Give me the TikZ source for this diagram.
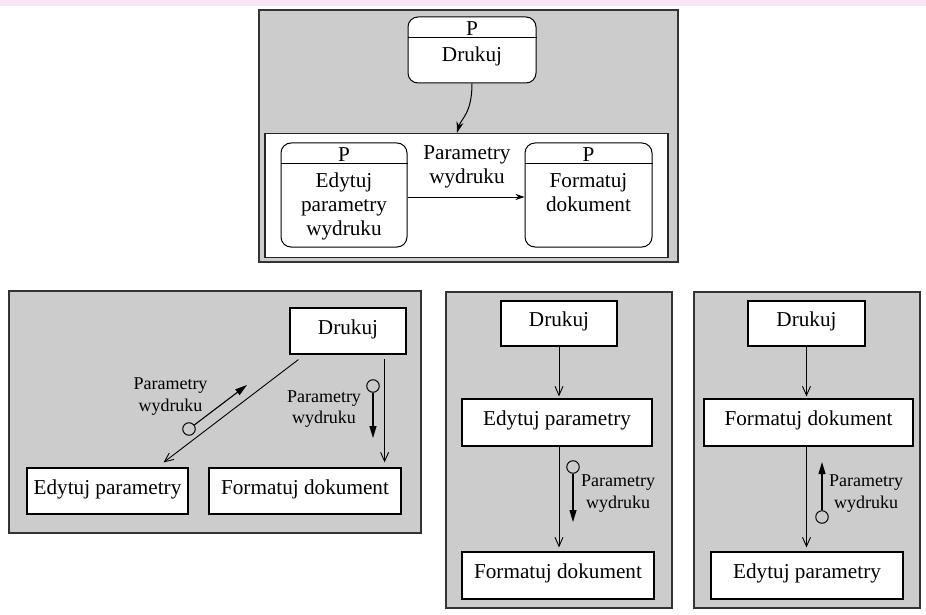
\documentclass[tikz,border=0pt]{standalone}
\usepackage{fontspec}
\setmainfont{Liberation Serif}
\usepackage{tikz}
\usetikzlibrary{positioning}
\usetikzlibrary{arrows.meta}
\newcommand{\boxfont}{\fontsize{21.2}{24}\selectfont}
\newcommand{\labfont}{\fontsize{18}{21.5}\selectfont}
\newcommand{\headgap}{21pt}
\definecolor{framegray}{HTML}{CCCCCC}
\definecolor{topstrip}{HTML}{F8E7F6}

\tikzset{
	frame/.style={draw=black!80, fill=framegray, line width=1.4pt, inner sep=0pt},
	grouping/.style={draw=black!85, fill=white, line width=1.4pt, inner sep=0pt},
	procbox/.style={draw, fill=white, rounded corners=10pt, line width=1pt, inner sep=0pt},
	modbox/.style={draw, fill=white, line width=1.2pt, inner sep=0pt, font=\boxfont, text height=14.5pt, text depth=8.5pt},
	boxtext/.style={inner sep=0pt, font=\boxfont, align=center},
	labtext/.style={inner sep=0pt, font=\labfont, align=center},
	flow/.style={-{Straight Barb[length=9pt,width=8pt]}, line width=0.9pt},
	flowtop/.style={-{Stealth[length=9pt,width=6pt]}, line width=0.9pt},
	curvearrow/.style={-{Stealth[length=11pt,width=7pt]}, line width=1pt},
	couple/.style={-{Triangle[length=12pt,width=7pt]}, line width=1.1pt},
	couplecirc/.style={circle, draw, line width=1pt, minimum size=12.5pt, inner sep=0pt}
}

\begin{document}
\begin{tikzpicture}[x=1pt,y=-1pt]
	\useasboundingbox (0,0) rectangle (926,615);
	\fill[topstrip] (0,0) rectangle (926,6);

	% top: process boxes
	\node[frame, minimum width=419pt, minimum height=252pt] (frameP) at (468.5,136) {};
	\node[grouping, minimum width=403pt, minimum height=124pt] (grupaP) at (466.5,195.5) {};
	\node[procbox, minimum width=128pt, minimum height=66pt] (drukujP) at (472,50) {};
	\node[procbox, minimum width=126pt, minimum height=104pt] (edytujP) at (344,195) {};
	\node[procbox, minimum width=127pt, minimum height=104pt] (formatujP) at (588.5,195) {};
	\foreach \p in {drukujP,edytujP,formatujP} {
		\coordinate (\p-h) at ([yshift=-\headgap]\p.north);
		\draw[line width=1pt] (\p.north west |- \p-h) -- (\p.north east |- \p-h);
		\node[boxtext, above=2pt of \p-h] (\p-head) {P};
	}
	\node[boxtext, below=9.5pt of drukujP-h] (drukujPtxt) {Drukuj};
	\node[boxtext, below=9.5pt of edytujP-h] (edytujPtxt) {Edytuj\\parametry\\wydruku};
	\node[boxtext, below=9.5pt of formatujP-h] (formatujPtxt) {Formatuj\\dokument};
	\node[boxtext, anchor=north] (parP) at (467,145.5) {Parametry\\wydruku};

	\draw[flowtop] ([yshift=-2pt]edytujP.east) -- ([yshift=-2pt]formatujP.west);
	\draw[curvearrow] (drukujP.south) .. controls +(0,30) and +(4,-14) .. ([xshift=-9.5pt]grupaP.north);

	% bottom left: structure chart
	\node[frame, minimum width=412pt, minimum height=242pt] (frameL) at (215,412) {};
	\node[modbox, minimum width=116pt, minimum height=46pt] (drukujL) at (348,331) {Drukuj};
	\node[modbox, minimum width=161pt, minimum height=46pt] (edytujL) at (107.5,491) {Edytuj parametry};
	\node[modbox, minimum width=192pt, minimum height=46pt] (formatujL) at (305,491) {Formatuj dokument};

	\draw[flow] ([xshift=9pt,yshift=-5pt]drukujL.south west) -- ([xshift=-25pt,yshift=5pt]edytujL.north east);
	\draw[flow] ([xshift=-22pt,yshift=-4pt]drukujL.south east) -- ([xshift=-17pt,yshift=5pt]formatujL.north east);

	\node[couplecirc] (cirL1) at (189,429) {};
	\coordinate (tipL1) at (247,385);
	\draw[couple] (cirL1) -- (tipL1);
	\node[labtext, anchor=north] (labL1) at (170.5,377.7) {Parametry\\wydruku};
	\node[couplecirc] (cirL2) at (373,386) {};
	\coordinate (tipL2) at (373,438);
	\draw[couple] (cirL2) -- (tipL2);
	\node[labtext, anchor=north] (labL2) at (324,390.4) {Parametry\\wydruku};

	% bottom middle
	\node[frame, minimum width=226pt, minimum height=316pt] (frameM) at (559,450) {};
	\node[modbox, minimum width=116pt, minimum height=45pt] (drukujM) at (559,323.5) {Drukuj};
	\node[modbox, minimum width=190pt, minimum height=47pt] (edytujM) at (557,422.5) {Edytuj parametry};
	\node[modbox, minimum width=192pt, minimum height=47pt] (formatujM) at (558,575.5) {Formatuj dokument};

	\draw[flow, shorten >=2pt] (drukujM.south) -- (drukujM.south |- edytujM.north);
	\draw[flow, shorten >=4pt] (drukujM.south |- edytujM.south) -- (drukujM.south |- formatujM.north);

	\node[couplecirc] (cirM) at (573,467) {};
	\coordinate (tipM) at (573,522);
	\draw[couple] (cirM) -- (tipM);
	\node[labtext, anchor=north] (labM) at (618,475) {Parametry\\wydruku};

	% bottom right
	\node[frame, minimum width=226pt, minimum height=316pt] (frameR) at (807,450) {};
	\node[modbox, minimum width=117pt, minimum height=45pt] (drukujR) at (806.5,323.5) {Drukuj};
	\node[modbox, minimum width=209pt, minimum height=47pt] (formatujR) at (808.5,422.5) {Formatuj dokument};
	\node[modbox, minimum width=192pt, minimum height=47pt] (edytujR) at (807,575.5) {Edytuj parametry};

	\draw[flow, shorten >=2pt] (drukujR.south) -- (drukujR.south |- formatujR.north);
	\draw[flow, shorten >=4pt] (drukujR.south |- formatujR.south) -- (drukujR.south |- edytujR.north);

	\node[couplecirc] (cirR) at (822,517) {};
	\coordinate (tipR) at (822,462);
	\draw[couple] (cirR) -- (tipR);
	\node[labtext, anchor=north] (labR) at (866,475) {Parametry\\wydruku};
\end{tikzpicture}
\end{document}
